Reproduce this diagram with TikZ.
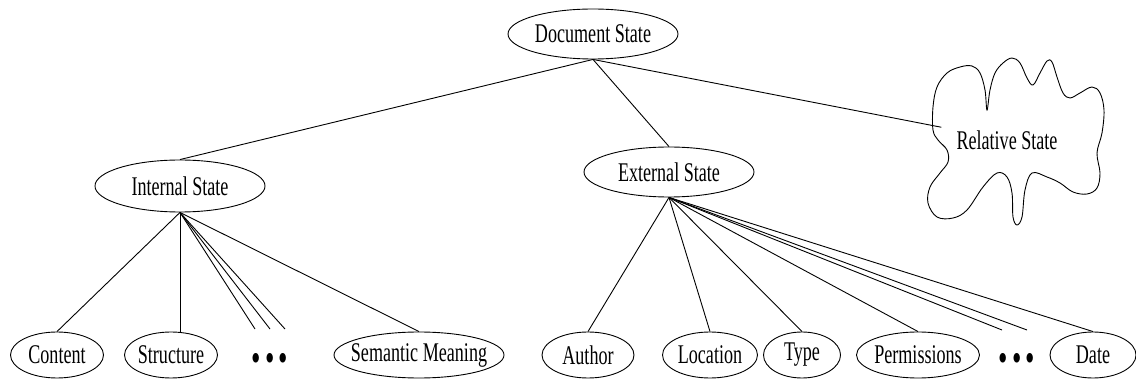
\documentclass[tikz,border=0pt]{standalone}
\usepackage{fontspec}
\setmainfont{Liberation Serif}[FakeStretch=0.67]
\usetikzlibrary{shapes.geometric, positioning}
\tikzstyle{ellNode} = [ellipse, draw=black, line width=0.9pt, minimum height=46pt, inner xsep=-40pt, inner ysep=0pt, font=\fontsize{27}{30}\selectfont, text=black]
\tikzstyle{topNode} = [ellNode, minimum width=170pt, minimum height=50pt]
\tikzstyle{dotNode} = [font=\fontsize{40}{40}\selectfont, inner sep=0pt]
\tikzstyle{line} = [line width=0.9pt, draw=black]

\begin{document}
\begin{tikzpicture}[x=1pt, y=-1pt]
        \useasboundingbox (0,0) rectangle (1136,379);
        \node (doc) [topNode] at (593,34) {Document State};
        \node (int) [topNode, minimum height=52pt] at (180,186) {Internal State};
        \node (ext) [topNode] at (669,172) {External State};
        \node (rel) [font=\fontsize{27}{30}\selectfont, inner xsep=15pt] at (1007,140) {Relative State};

        % cloud round the relative state
        \draw [line] plot [smooth cycle, tension=0.6] coordinates {
            (933,130) (933,107) (937,87) (947,73) (960,67) (972,66) (980,73) (985,90)
            (987,110) (990,90) (995,73) (1003,63) (1012,58) (1020,63) (1027,78) (1033,85)
            (1040,73) (1047,61) (1052,62) (1057,77) (1063,93) (1070,98) (1080,93) (1092,87)
            (1100,93) (1104,110) (1102,133) (1097,153) (1100,173) (1097,188) (1087,194)
            (1073,192) (1060,183) (1047,177) (1032,173) (1025,190) (1022,217) (1017,225)
            (1013,217) (1012,193) (1007,177) (997,173) (983,187) (967,210) (953,218)
            (937,217) (928,203) (930,187) (940,173) (948,162) (947,150) (938,140)};

        \node (cont) [ellNode, minimum width=93pt] at (57,355) {Content};
        \node (stru) [ellNode, minimum width=93pt] at (171,355) {Structure};
        \node (idots) [dotNode] at (270,362) {\textbullet\hspace{4pt}\textbullet\hspace{4pt}\textbullet};
        \node (sem) [ellNode, minimum width=170pt] at (419,355) {Semantic Meaning};
        \node (auth) [ellNode, minimum width=92pt] at (588,355) {Author};
        \node (loc) [ellNode, minimum width=95pt] at (710,355) {Location};
        \node (type) [ellNode, minimum width=77pt] at (802,355) {Type};
        \node (perm) [ellNode, minimum width=123pt] at (918,355) {Permissions};
        \node (edots) [dotNode] at (1017,362) {\textbullet\hspace{4pt}\textbullet\hspace{4pt}\textbullet};
        \node (date) [ellNode, minimum width=86pt] at (1093,355) {Date};

        \coordinate (i1) at (255,329);
        \coordinate (i2) at (270,329);
        \coordinate (i3) at (285,329);
        \coordinate (e1) at (1002,330);
        \coordinate (e2) at (1027,330);

        \draw [line] (doc.south) -- (int.north);
        \draw [line] (doc.south) -- (ext.north);
        \draw [line] (doc.south) -- (rel);

        \draw [line] (int.south) -- (cont.north);
        \draw [line] (int.south) -- (int.south |- stru.north);
        \foreach \c in {i1,i2,i3}
            \draw [line] (int.south) -- (\c);
        \draw [line] (int.south) -- (sem.north);

        \foreach \c in {auth,loc,type,perm,date}
            \draw [line] (ext.south) -- (\c.north);
        \foreach \c in {e1,e2}
            \draw [line] (ext.south) -- (\c);
\end{tikzpicture}
\end{document}
